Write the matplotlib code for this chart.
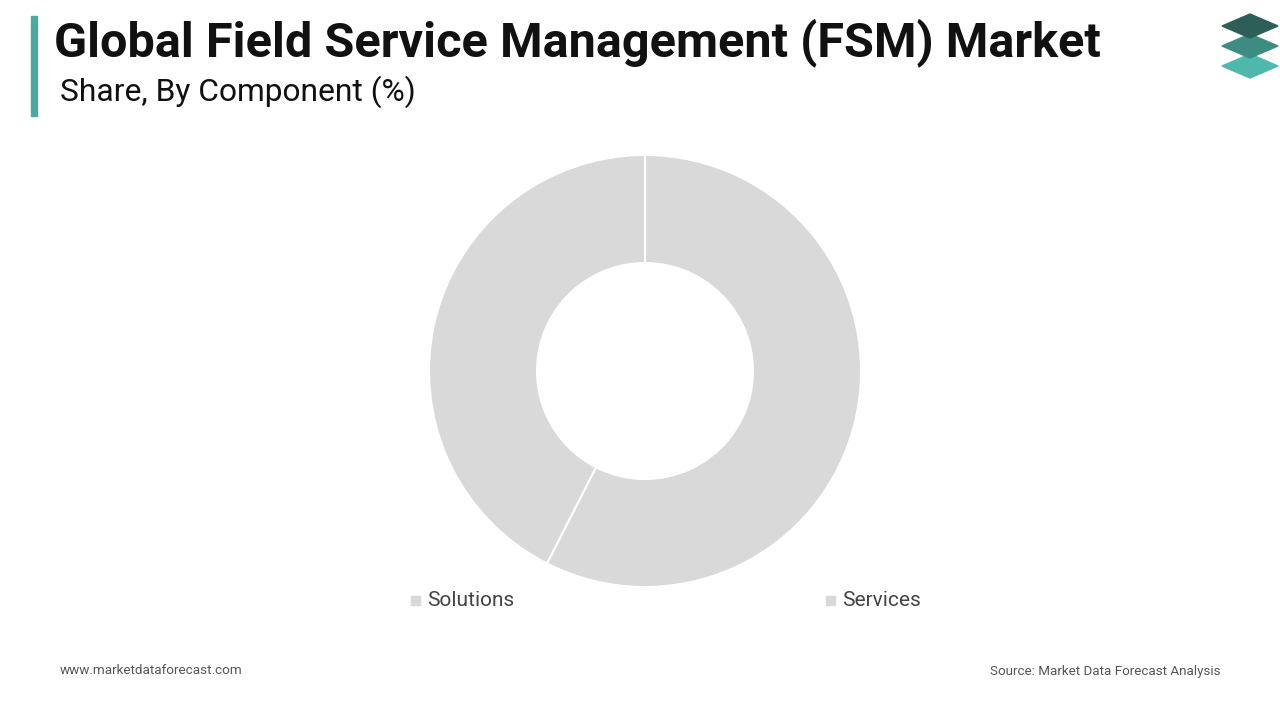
import matplotlib.pyplot as plt
from matplotlib.patches import Rectangle, Polygon

labels = ['Solutions', 'Services']
shares = [57.5, 42.5]
colors = ['#d9d9d9', '#d9d9d9']

plt.rcParams['font.family'] = ['Roboto', 'DejaVu Sans']
fig = plt.figure(figsize=(12.8, 7.2), dpi=100)

# donut
ax = fig.add_axes([(645 - 216) / 1280, 1 - (371 + 216) / 720, 432 / 1280, 432 / 720])
ax.pie(shares, colors=colors, startangle=90, counterclock=False,
       wedgeprops=dict(width=0.5, edgecolor='white', linewidth=1.5))
ax.set_xlim(-1, 1)
ax.set_ylim(-1, 1)
ax.set_aspect('equal')

# legend
for x, lab in [(411, 'Solutions'), (826, 'Services')]:
    fig.patches.append(Rectangle((x / 1280, 1 - 605 / 720), 9 / 1280, 9 / 720,
                                 transform=fig.transFigure, color='#d9d9d9'))
    fig.text((x + 16) / 1280, 1 - 601 / 720, lab, fontsize=15, color='#444444', va='center')

# header
fig.patches.append(Rectangle((31 / 1280, 1 - 116 / 720), 6 / 1280, 100 / 720,
                             transform=fig.transFigure, color='#4aaaa0'))
fig.text(54 / 1280, 1 - 43 / 720, 'Global Field Service Management (FSM) Market',
         fontsize=35, fontweight='bold', color='#111111', va='center')
fig.text(60 / 1280, 1 - 92 / 720, 'Share, By Component (%)', fontsize=22.9,
         color='#111111', va='center')

# logo
for i, c in enumerate(['#2e5e58', '#3d8c82', '#4fb8ac'][::-1]):
    cy = 66 - i * 20
    pts = [(1250, cy - 12), (1278, cy), (1250, cy + 12), (1222, cy)]
    fig.patches.append(Polygon([(px / 1280, 1 - py / 720) for px, py in pts],
                               transform=fig.transFigure, color=c))

# footer
fig.text(60 / 1280, 1 - 671 / 720, 'www.marketdataforecast.com', fontsize=9.7, color='#555555', va='center')
fig.text(1220 / 1280, 1 - 671 / 720, 'Source: Market Data Forecast Analysis', fontsize=9.6,
         color='#555555', va='center', ha='right')

fig.savefig('out.png', dpi=100)
